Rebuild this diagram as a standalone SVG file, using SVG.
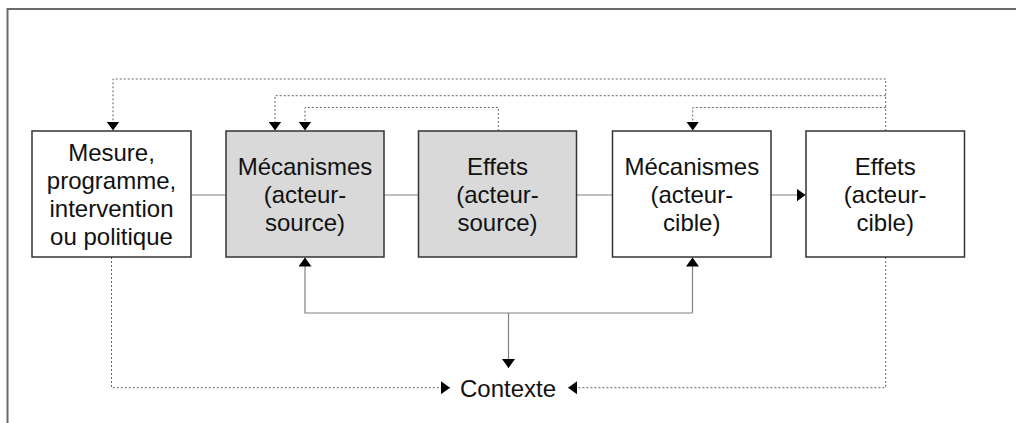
<svg xmlns="http://www.w3.org/2000/svg" width="1016" height="423" viewBox="0 0 1016 423">
  <defs>
    <marker id="ah" viewBox="0 0 9 13" refX="9" refY="6.5" markerWidth="9" markerHeight="13" markerUnits="userSpaceOnUse" orient="auto">
      <path d="M0,0 L9,6.5 L0,13 z" fill="#000"/>
    </marker>
  </defs>
  <style>
    .frame { fill: none; stroke: #6a6a6a; stroke-width: 2; }
    .box { fill: #fff; stroke: #333; stroke-width: 1.5; }
    .grey { fill: #d9d9d9; }
    .lbl { font-family: "Liberation Sans", Arial, sans-serif; font-size: 24px; fill: #111; text-anchor: middle; }
    .solid { fill: none; stroke: #808080; stroke-width: 1.2; }
    .dot { fill: none; stroke: #666; stroke-width: 1; stroke-dasharray: 2 2; }
  </style>
  <rect width="1016" height="423" fill="#fff"/>
  <path class="frame" d="M7.5,423 V9 H1016"/>

  <g id="connectors">
    <line class="solid" x1="191" y1="195" x2="226" y2="195"/>
    <line class="solid" x1="384" y1="195" x2="418.5" y2="195"/>
    <line class="solid" x1="577" y1="195" x2="612.5" y2="195"/>
    <line class="solid" x1="771" y1="195" x2="805.5" y2="195" marker-end="url(#ah)"/>
    <path class="solid" d="M692.5,313 H305 V257.5" marker-end="url(#ah)"/>
    <path class="solid" d="M692.5,313 V257.5" marker-end="url(#ah)"/>
    <path class="solid" d="M508.5,313 V368" marker-end="url(#ah)"/>
    <path class="dot" d="M885.7,131 V79 H113 V130.5" marker-end="url(#ah)"/>
    <path class="dot" d="M885.7,95.7 H275 V130.5" marker-end="url(#ah)"/>
    <path class="dot" d="M498.3,131 V107.5 H305 V130.5" marker-end="url(#ah)"/>
    <path class="dot" d="M885.7,107.5 H692.7 V130.5" marker-end="url(#ah)"/>
    <path class="dot" d="M111.5,257 V387.7 H450" marker-end="url(#ah)"/>
    <path class="dot" d="M885.7,257 V387.7 H568" marker-end="url(#ah)"/>
  </g>

  <g id="mesure">
    <rect class="box" x="32" y="131" width="159" height="126"/>
    <text class="lbl" x="111.5" y="161">Mesure,</text>
    <text class="lbl" x="111.5" y="189">programme,</text>
    <text class="lbl" x="111.5" y="217">intervention</text>
    <text class="lbl" x="111.5" y="245">ou politique</text>
  </g>
  <g id="mecanismes-source">
    <rect class="box grey" x="226" y="131" width="158" height="126"/>
    <text class="lbl" x="305" y="175">Mécanismes</text>
    <text class="lbl" x="305" y="203">(acteur-</text>
    <text class="lbl" x="305" y="231">source)</text>
  </g>
  <g id="effets-source">
    <rect class="box grey" x="418.5" y="131" width="158" height="126"/>
    <text class="lbl" x="497.5" y="175">Effets</text>
    <text class="lbl" x="497.5" y="203">(acteur-</text>
    <text class="lbl" x="497.5" y="231">source)</text>
  </g>
  <g id="mecanismes-cible">
    <rect class="box" x="612.5" y="131" width="158.5" height="126"/>
    <text class="lbl" x="691.8" y="175">Mécanismes</text>
    <text class="lbl" x="691.8" y="203">(acteur-</text>
    <text class="lbl" x="691.8" y="231">cible)</text>
  </g>
  <g id="effets-cible">
    <rect class="box" x="806" y="131" width="158.5" height="126"/>
    <text class="lbl" x="885.2" y="175">Effets</text>
    <text class="lbl" x="885.2" y="203">(acteur-</text>
    <text class="lbl" x="885.2" y="231">cible)</text>
  </g>
  <g id="contexte">
    <text class="lbl" x="508" y="397">Contexte</text>
  </g>
</svg>
